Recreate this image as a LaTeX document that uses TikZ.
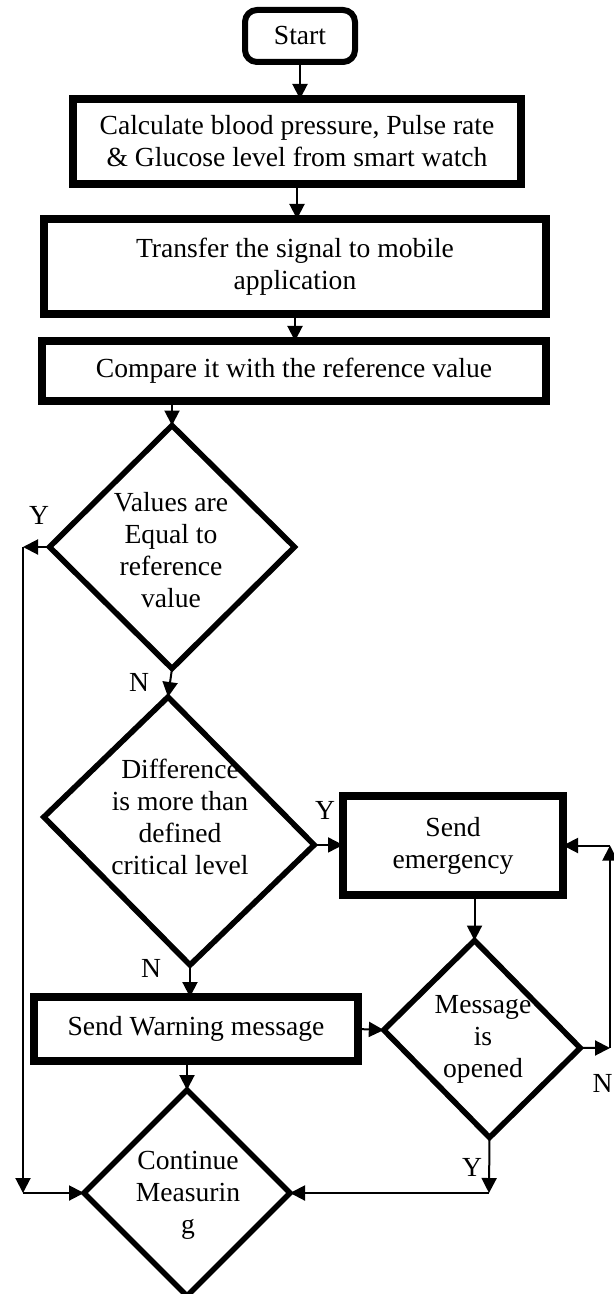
\documentclass[tikz,border=0pt]{standalone}
\usepackage{fontspec}
\setmainfont{Liberation Serif}
\usetikzlibrary{shapes.geometric,arrows.meta}

\begin{document}
\begin{tikzpicture}[x=0.5pt,y=-0.5pt,
  font=\fontsize{13.8}{16}\selectfont,
  box/.style={draw, line width=4pt, inner sep=0pt, outer sep=0pt, align=center},
  dec/.style={draw, diamond, line width=2.8pt, inner sep=0pt, outer sep=0pt},
  txt/.style={align=center, inner sep=0pt},
  arr/.style={line width=1pt, -{Triangle[length=7.5pt,width=7.5pt]}},
  yn/.style={inner sep=0pt}]

\useasboundingbox (0,0) rectangle (614,1294);

\node[box, rounded corners=6pt, line width=3pt, minimum width=55pt, minimum height=26pt] (start) at (300,36) {Start};
\node[box, minimum width=224pt, minimum height=42.5pt] (calc) at (297,141.5) {Calculate blood pressure, Pulse rate\\\& Glucose level from smart watch};
\node[box, minimum width=251pt, minimum height=47.5pt] (transfer) at (295,266.5) {Transfer the signal to mobile\\application};
\node[box, minimum width=252pt, minimum height=30pt] (compare) at (294,371) {Compare it with the reference value};

\node[dec, minimum width=122.5pt, minimum height=121.5pt] (d1) at (172,547) {};
\node[txt] (d1t) at (171,550) {Values are\\Equal to\\reference\\value};

\node[dec, xslant=-0.082, yslant=-0.104, minimum width=134pt, minimum height=134pt] (d2) at (179,831) {};
\node[txt] (d2t) at (180,817) {Difference\\is more than\\defined\\critical level};

\node[box, minimum width=110pt, minimum height=49.5pt] (emerg) at (453,845.5) {Send\\emergency};
\node[box, minimum width=161.75pt, minimum height=32pt] (warn) at (196,1029) {Send Warning message};

\node[dec, xslant=-0.076, yslant=-0.092, minimum width=97.5pt, minimum height=98.5pt] (d3) at (482,1039) {};
\node[txt] (d3t) at (483,1039) {Message\\is\\opened};

\node[dec, minimum width=103pt, minimum height=103pt] (cont) at (187,1193) {};
\node[txt] (contt) at (188,1195) {Continue\\Measurin\\g};

% corners of the side loops
\coordinate (l1) at (23,547);
\coordinate (l2) at (23,1193);
\coordinate (r1) at (610,1048);
\coordinate (r2) at (610,845.5);
\coordinate (b1) at (489,1193);

\draw[arr] (start.south) -- (start.south |- calc.north);
\draw[arr] (calc.south) -- (calc.south |- transfer.north);
\draw[arr] (transfer.south) -- (transfer.south |- compare.north);
\draw[arr] (d1.north |- compare.south) -- (d1.north);
\draw[arr] (d1.south) -- (d2.north);
\draw[arr] (d2.east) -- (d2.east -| emerg.west);
\draw[arr] (d2.south) -- (d2.south |- warn.north);
\draw[arr] (d3.north |- emerg.south) -- (d3.north);
\draw[arr] (warn.east) -- (d3.west);
\draw[arr] (cont.north |- warn.south) -- (cont.north);

\draw[arr] (d3.east) -- (r1);
\draw[arr] (r1) -- (r2);
\draw[arr] (r2) -- (emerg.east);

\draw[arr] (d3.south) -- (b1);
\draw[arr] (b1) -- (cont.east);

\draw[arr] (d1.west) -- (l1);
\draw[arr] (l1) -- (l2);
\draw[arr] (l2) -- (cont.west);

\node[yn] (y1) at (39,515) {Y};
\node[yn] (n1) at (139,682) {N};
\node[yn] (y2) at (325,810) {Y};
\node[yn] (n2) at (151,968) {N};
\node[yn, anchor=east] (n3) at (613,1083) {N};
\node[yn] (y3) at (472,1167) {Y};
\end{tikzpicture}
\end{document}
